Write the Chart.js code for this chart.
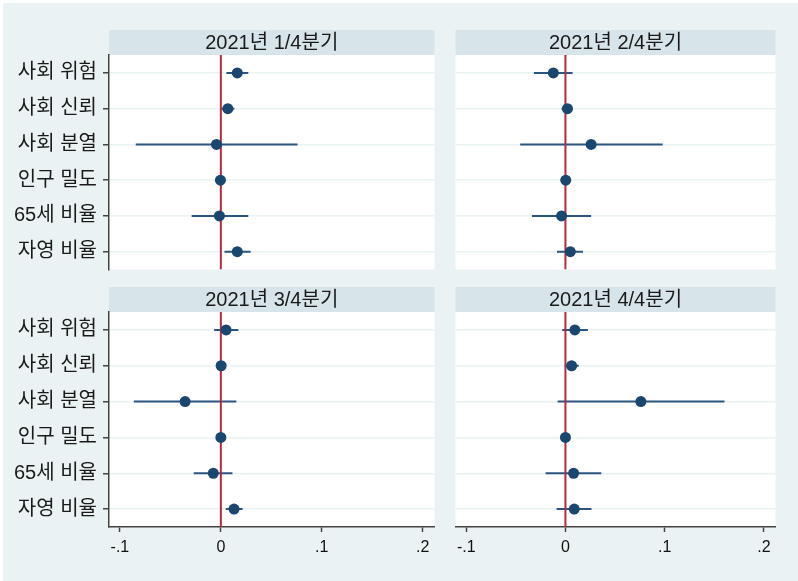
<!DOCTYPE html>
<html>
<head>
<meta charset="utf-8">
<script src="https://cdn.jsdelivr.net/npm/chart.js@4/dist/chart.umd.min.js"></script>
<style>
  html, body { margin: 0; padding: 0; background: #ffffff; }
  #wrap { position: relative; width: 798px; height: 581px; overflow: hidden; }
  #bg { position: absolute; left: 3px; top: 3px; right: 0; bottom: 0; background: #eaf2f3; }
  .cv { position: absolute; }
</style>
</head>
<body>
<div id="wrap">
  <div id="bg"></div>
  <canvas id="c1" class="cv" width="440" height="245" style="left:0px;top:30px;"></canvas>
  <canvas id="c2" class="cv" width="331" height="245" style="left:450px;top:30px;"></canvas>
  <canvas id="c3" class="cv" width="440" height="290" style="left:0px;top:287px;"></canvas>
  <canvas id="c4" class="cv" width="331" height="290" style="left:450px;top:287px;"></canvas>
</div>
<script>
// ---- data ----
const categories = ['사회 위험', '사회 신뢰', '사회 분열', '인구 밀도', '65세 비율', '자영 비율'];
const panelTitles = ['2021년 1/4분기', '2021년 2/4분기', '2021년 3/4분기', '2021년 4/4분기'];

const q1Coef  = [0.0163, 0.0069, -0.0043, -0.0004, -0.0014, 0.0163];
const q1Lower = [0.0055, 0.0006, -0.0843, -0.0012, -0.0289, 0.0036];
const q1Upper = [0.0272, 0.0134, 0.0760, 0.0004, 0.0272, 0.0295];

const q2Coef  = [-0.0122, 0.0020, 0.0259, 0.0003, -0.0039, 0.0049];
const q2Lower = [-0.0318, -0.0039, -0.0456, -0.0005, -0.0338, -0.0085];
const q2Upper = [0.0072, 0.0075, 0.0980, 0.0011, 0.0259, 0.0177];

const q3Coef  = [0.0052, 0.0003, -0.0354, 0.0000, -0.0075, 0.0131];
const q3Lower = [-0.0066, -0.0005, -0.0862, -0.0008, -0.0269, 0.0049];
const q3Upper = [0.0174, 0.0011, 0.0154, 0.0008, 0.0115, 0.0216];

const q4Coef  = [0.0095, 0.0062, 0.0760, 0.0000, 0.0082, 0.0089];
const q4Lower = [-0.0033, -0.0007, -0.0079, -0.0008, -0.0200, -0.0089];
const q4Upper = [0.0226, 0.0134, 0.1603, 0.0008, 0.0361, 0.0262];

const xTickValues = [-0.1, 0, 0.1, 0.2];
const xTickLabels = ['-.1', '0', '.1', '.2'];
const xRange = [-0.1108, 0.2117];

// ---- styles ----
const FONT = '"Liberation Sans", "Noto Sans CJK KR", Arial, sans-serif';
const NAVY = '#1a476f';
const CI_COLOR = '#2b5580';
const ZERO_RED = '#b8283c';
const GRID = '#eaf2f3';
const STRIP = '#d7e5ea';
const AXIS = '#444444';

const stripPlugin = {
  id: 'strip',
  beforeDraw(chart) {
    const ctx = chart.ctx, ca = chart.chartArea, tb = chart.titleBlock;
    ctx.save();
    ctx.fillStyle = STRIP;
    ctx.fillRect(ca.left, tb.top, ca.right - ca.left, ca.top - tb.top);
    ctx.fillStyle = '#ffffff';
    ctx.fillRect(ca.left, ca.top, ca.right - ca.left, ca.bottom - ca.top);
    ctx.restore();
  }
};

function makeChart(id, title, coef, lower, upper, showY, showX) {
  const datasets = [];
  datasets.push({
    label: 'coef',
    data: categories.map((c, i) => ({ x: coef[i], y: i + 1 })),
    pointRadius: 5.5,
    pointHoverRadius: 5.5,
    pointBackgroundColor: NAVY,
    pointBorderColor: NAVY,
    pointBorderWidth: 0,
    showLine: false,
    order: 0
  });
  datasets.push({
    label: 'zero',
    data: [{ x: 0, y: 0.5 }, { x: 0, y: 6.5 }],
    showLine: true,
    borderColor: ZERO_RED,
    borderWidth: 2,
    pointRadius: 0,
    order: 1
  });
  categories.forEach((c, i) => {
    datasets.push({
      label: 'ci ' + c,
      data: [{ x: lower[i], y: i + 1 }, { x: upper[i], y: i + 1 }],
      showLine: true,
      borderColor: CI_COLOR,
      borderWidth: 2,
      pointRadius: 0,
      order: 2
    });
  });

  return new Chart(document.getElementById(id), {
    type: 'scatter',
    data: { datasets },
    plugins: [stripPlugin],
    options: {
      responsive: false,
      animation: false,
      devicePixelRatio: 1,
      layout: { padding: { left: 0, top: 0, right: 3, bottom: showX ? 0 : 3 } },
      plugins: {
        legend: { display: false },
        tooltip: { enabled: false },
        title: {
          display: true,
          text: title,
          fullSize: false,
          color: '#1a1a1a',
          font: { family: FONT, size: 20, weight: 'normal', lineHeight: 1.0 },
          padding: { top: 3, bottom: 2 }
        }
      },
      scales: {
        x: {
          type: 'linear',
          display: showX,
          min: xRange[0],
          max: xRange[1],
          afterBuildTicks: (s) => { s.ticks = xTickValues.map(v => ({ value: v })); },
          afterFit: (s) => { s.height = showX ? 50 : 0; s.paddingLeft = 0; s.paddingRight = 0; },
          grid: { drawOnChartArea: false, drawTicks: true, tickLength: 5, tickColor: AXIS, tickWidth: 1.5 },
          border: { display: true, color: AXIS, width: 1.5 },
          ticks: {
            padding: 6,
            color: '#111111',
            font: { family: FONT, size: 16 },
            maxRotation: 0,
            autoSkip: false,
            callback: (v) => { const k = xTickValues.findIndex(t => Math.abs(t - v) < 1e-9); return k >= 0 ? xTickLabels[k] : ''; }
          }
        },
        y: {
          type: 'linear',
          reverse: true,
          min: 0.5,
          max: 6.5,
          afterBuildTicks: (s) => { s.ticks = categories.map((c, i) => ({ value: i + 1 })); },
          afterFit: (s) => { s.width = showY ? 109 : 0; s.paddingTop = 0; s.paddingBottom = 0; },
          grid: { color: GRID, lineWidth: 1.5, drawTicks: showY, tickLength: 6, tickColor: AXIS, tickWidth: 1.5 },
          border: { display: showY, color: AXIS, width: 1.5 },
          ticks: {
            display: showY,
            padding: 6,
            color: '#1a1a1a',
            font: { family: FONT, size: 20 },
            autoSkip: false,
            callback: (v) => categories[Math.round(v) - 1] || ''
          }
        }
      }
    }
  });
}

makeChart('c1', panelTitles[0], q1Coef, q1Lower, q1Upper, true, false);
makeChart('c2', panelTitles[1], q2Coef, q2Lower, q2Upper, false, false);
makeChart('c3', panelTitles[2], q3Coef, q3Lower, q3Upper, true, true);
makeChart('c4', panelTitles[3], q4Coef, q4Lower, q4Upper, false, true);
</script>
</body>
</html>
